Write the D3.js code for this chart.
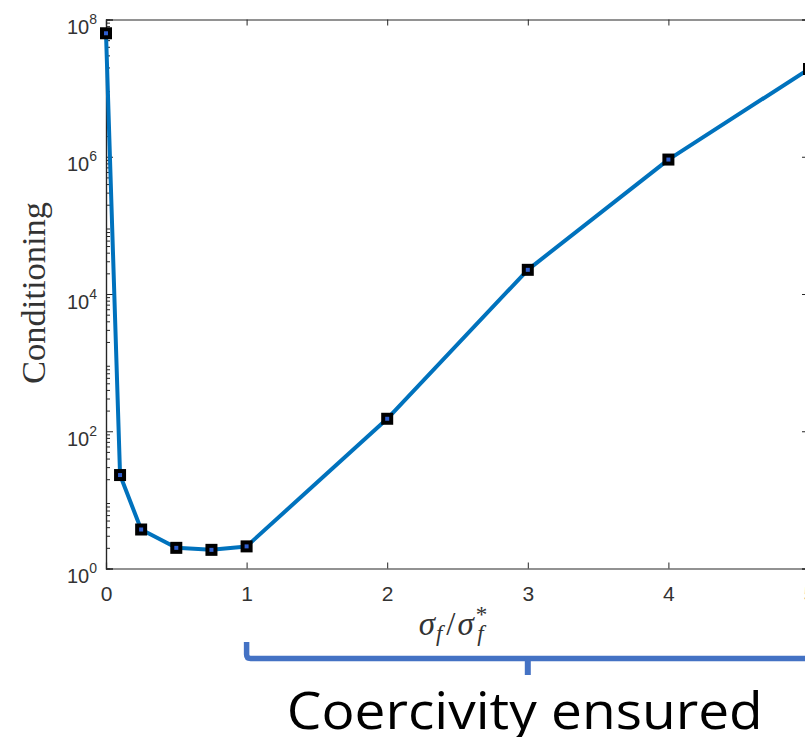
<!DOCTYPE html>
<html>
<head>
<meta charset="utf-8">
<script src="https://cdn.jsdelivr.net/npm/d3@7"></script>
<style>
  body { margin: 0; background: #fff; }
  svg { display: block; }
</style>
</head>
<body>
<svg id="chart" width="805" height="737"></svg>
<script>
// ratio sigma_f / sigma_f*
const ratios = [0, 0.1, 0.25, 0.5, 0.75, 1, 2, 3, 4, 5];
// conditioning number
const conditioning = [6.3e7, 23, 3.7, 2.0, 1.87, 2.1, 152, 2.25e4, 9.1e5, 1.9e7];
const xTicks = [0, 1, 2, 3, 4, 5];
const yTicks = [1, 1e2, 1e4, 1e6, 1e8];
const yExponents = ["0", "2", "4", "6", "8"];
const bracketFrom = 1, bracketMid = 3;

const data = ratios.map((r, i) => ({ r: r, c: conditioning[i] }));

const svg = d3.select("#chart"),
    plotLeft = 106, plotRight = 809, plotTop = 19.5, plotBottom = 568.5;

const x = d3.scaleLinear().domain([0, 5]).range([plotLeft, plotRight]);
const y = d3.scaleLog().domain([1, 1e8]).range([plotBottom, plotTop]);

const axisColor = "#262626";

// minor ticks for the log axes
const minor = [];
for (let e = 0; e < 8; e++) {
    for (let k = 2; k <= 9; k++) minor.push(k * Math.pow(10, e));
}

function styleAxis(g) {
    g.select(".domain").attr("stroke", axisColor).attr("stroke-width", 1.2);
    g.selectAll(".tick line").attr("stroke", axisColor).attr("stroke-width", 1);
}

// bottom
svg.append("g")
    .attr("transform", `translate(0,${plotBottom})`)
    .call(d3.axisBottom(x).tickValues(xTicks).tickSize(-6).tickPadding(18).tickFormat(d3.format("d")))
    .call(styleAxis)
    .call(g => g.selectAll("text")
        .attr("fill", "#333")
        .attr("font-family", "Liberation Sans, Arial, sans-serif")
        .attr("font-size", 21));

// top
svg.append("g")
    .attr("transform", `translate(0,${plotTop})`)
    .call(d3.axisTop(x).tickValues(xTicks).tickSize(-6).tickFormat(""))
    .call(styleAxis);

// left major + labels
const yLeft = svg.append("g")
    .attr("transform", `translate(${plotLeft},0)`)
    .call(d3.axisLeft(y).tickValues(yTicks).tickSize(-7).tickFormat(""))
    .call(styleAxis);

yLeft.selectAll(".tick").each(function (d, i) {
    const t = d3.select(this).append("text")
        .attr("x", -9)
        .attr("y", 14)
        .attr("text-anchor", "end")
        .attr("fill", "#333")
        .attr("font-family", "Liberation Sans, Arial, sans-serif");
    t.append("tspan").attr("font-size", 20).text("10");
    t.append("tspan").attr("font-size", 14).attr("dy", -10).text(yExponents[i]);
});

svg.append("g")
    .attr("transform", `translate(${plotLeft},0)`)
    .call(d3.axisLeft(y).tickValues(minor).tickSize(-4).tickFormat(""))
    .call(styleAxis);

// right
svg.append("g")
    .attr("transform", `translate(${plotRight},0)`)
    .call(d3.axisRight(y).tickValues(yTicks).tickSize(-7).tickFormat(""))
    .call(styleAxis);
svg.append("g")
    .attr("transform", `translate(${plotRight},0)`)
    .call(d3.axisRight(y).tickValues(minor).tickSize(-4).tickFormat(""))
    .call(styleAxis);

// line
const line = d3.line()
    .x(d => x(d.r))
    .y(d => y(d.c));

svg.append("path")
    .datum(data)
    .attr("d", line)
    .attr("fill", "none")
    .attr("stroke", "#0072BD")
    .attr("stroke-width", 4)
    .attr("stroke-linejoin", "round");

// square markers
svg.selectAll(".marker")
    .data(data)
    .enter().append("rect")
    .attr("class", "marker")
    .attr("x", d => x(d.r) - 4)
    .attr("y", d => y(d.c) - 4)
    .attr("width", 8)
    .attr("height", 8)
    .attr("fill", "#2f5fd0")
    .attr("stroke", "#000")
    .attr("stroke-width", 4);

// y label
svg.append("text")
    .attr("transform", `translate(45,293) rotate(-90)`)
    .attr("text-anchor", "middle")
    .attr("fill", "#333")
    .attr("font-family", "Liberation Serif, serif")
    .attr("font-size", 33)
    .attr("textLength", 182)
    .attr("lengthAdjust", "spacingAndGlyphs")
    .text("Conditioning");

// x label: sigma_f / sigma_f^*
const xl = svg.append("text")
    .attr("x", 453)
    .attr("y", 635)
    .attr("text-anchor", "middle")
    .attr("fill", "#333")
    .attr("font-family", "Liberation Serif, serif")
    .attr("font-size", 33);
xl.append("tspan").attr("font-style", "italic").text("σ");
xl.append("tspan").attr("font-style", "italic").attr("font-size", 23).attr("dx", 1).attr("dy", 6).text("f");
xl.append("tspan").attr("dx", 4).attr("dy", -6).text("/");
xl.append("tspan").attr("font-style", "italic").attr("dx", 2).text("σ");
xl.append("tspan").attr("font-size", 23).attr("dx", 2).attr("dy", -13).text("*");
xl.append("tspan").attr("font-style", "italic").attr("font-size", 23).attr("dx", -10).attr("dy", 19).text("f");

// bracket annotation
const bx = x(bracketFrom), mx = x(bracketMid), by = 658.5;
svg.append("path")
    .attr("d", `M${bx},642 V${by - 4} Q${bx},${by} ${bx + 4},${by} H830`)
    .attr("fill", "none")
    .attr("stroke", "#4472C4")
    .attr("stroke-width", 5.5);
svg.append("path")
    .attr("d", `M${mx},${by} V675`)
    .attr("fill", "none")
    .attr("stroke", "#4472C4")
    .attr("stroke-width", 6);

svg.append("text")
    .attr("x", mx - 3)
    .attr("y", 729)
    .attr("text-anchor", "middle")
    .attr("fill", "#000")
    .attr("font-family", "Open Sans, sans-serif")
    .attr("font-size", 52)
    .attr("textLength", 476)
    .attr("lengthAdjust", "spacingAndGlyphs")
    .text("Coercivity ensured");
</script>
</body>
</html>
